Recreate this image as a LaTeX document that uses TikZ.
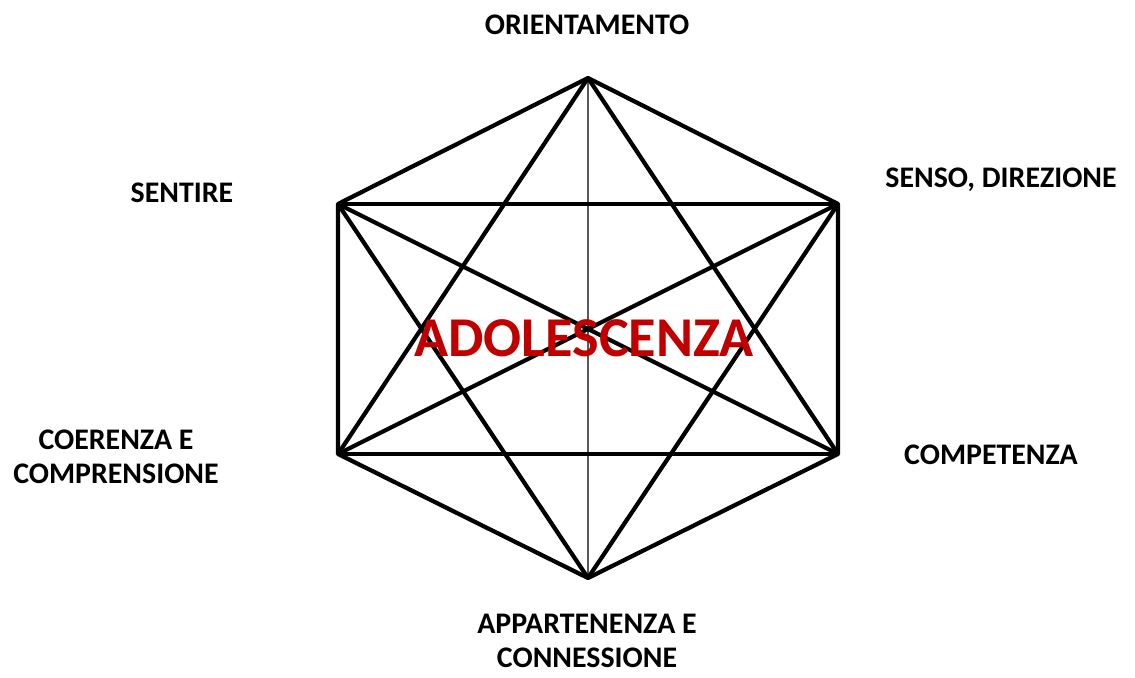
\documentclass[tikz,border=0pt]{standalone}
\usepackage{fontspec}
\setmainfont{Carlito}
\usetikzlibrary{positioning, calc}
\definecolor{adored}{RGB}{192,0,0}

\begin{document}
\begin{tikzpicture}[
		edge/.style={line width=2.4pt, line join=round},
		axis/.style={line width=0.8pt, gray!70!black},
		label/.style={font=\fontsize{17}{19.5}\selectfont\bfseries, align=center, inner sep=0pt},
		title/.style={font=\fontsize{32}{36}\selectfont\bfseries, text=adored, inner sep=0pt}
		]
		
		\useasboundingbox (0,0) rectangle (22.7,13.54);
		
		% ==========================================
		% HEXAGON CORNERS
		% ==========================================
		\coordinate (top) at (11.76,11.98);
		\coordinate (ur)  at (16.76,9.46);
		\coordinate (lr)  at (16.76,4.46);
		\coordinate (bot) at (11.76,1.98);
		\coordinate (ll)  at (6.76,4.46);
		\coordinate (ul)  at (6.76,9.46);
		
		% thin middle axis
		\draw[axis] (top) -- (bot);
		
		% ==========================================
		% OUTLINE AND STAR
		% ==========================================
		\draw[edge] (top) -- (ur) -- (lr) -- (bot) -- (ll) -- (ul) -- cycle;
		\draw[edge] (ul) -- (ur);
		\draw[edge] (ll) -- (lr);
		\draw[edge] (top) -- (ll);
		\draw[edge] (top) -- (lr);
		\draw[edge] (bot) -- (ul);
		\draw[edge] (bot) -- (ur);
		\draw[edge] (ul) -- (lr);
		\draw[edge] (ur) -- (ll);
		
		% ==========================================
		% TEXTS
		% ==========================================
		\node[title] (adol) at (11.68,6.78) {ADOLESCENZA};
		
		\node[label] (orient) at (11.74,13.04) {ORIENTAMENTO};
		\node[label] (senso) at (20.02,9.94) {SENSO, DIREZIONE};
		\node[label] (sentire) at (3.64,9.68) {SENTIRE};
		\node[label] (coer) at (2.32,4.40) {COERENZA E\\COMPRENSIONE};
		\node[label] (compet) at (19.82,4.44) {COMPETENZA};
		\node[label] (appart) at (11.74,0.72) {APPARTENENZA E\\CONNESSIONE};
		
	\end{tikzpicture}
\end{document}
